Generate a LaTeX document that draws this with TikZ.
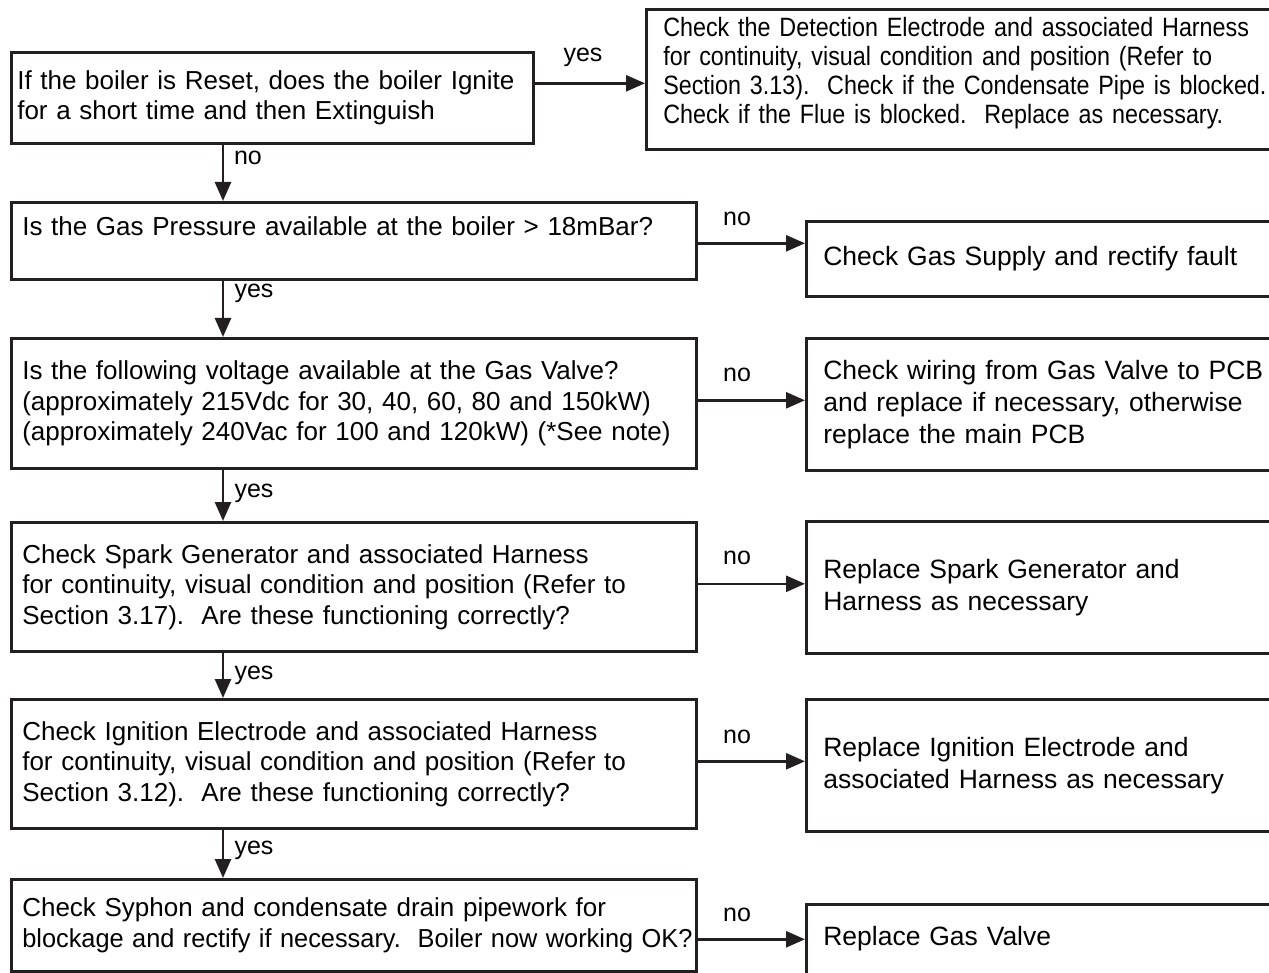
\documentclass[tikz,border=0pt]{standalone}
\usepackage{fontspec}
\setmainfont{Liberation Sans}
\newfontfamily\narrowf[FakeStretch=0.88]{Liberation Sans}
\usetikzlibrary{arrows.meta}
\definecolor{ink}{HTML}{231F20}
\frenchspacing
\tikzset{
  qbox/.style={draw=ink, line width=2.6pt, rectangle, anchor=north west, align=left,
    inner ysep=0pt, inner xsep=11pt, text width=663pt, minimum width=685pt,
    font=\frenchspacing\fontsize{26}{30.5}\selectfont, text=black},
  abox/.style={draw=ink, line width=2.6pt, rectangle, anchor=north west, align=left,
    inner ysep=0pt, inner xsep=17pt, text width=466pt, minimum width=500pt,
    font=\frenchspacing\fontsize{26.5}{32}\selectfont, text=black},
  arr/.style={draw=ink, line width=2.6pt, -{Triangle[length=19pt,width=16pt]}},
  lbl/.style={font=\fontsize{25}{25}\selectfont, inner sep=0pt, text=black}
}
\begin{document}
\begin{tikzpicture}[x=1pt,y=-1pt]
\clip (0,0) rectangle (1269,973);
\fill[white] (0,0) rectangle (1269,973);
\coordinate (cx) at (223,0);
% left column
\node[qbox, inner xsep=6pt, text width=510pt, minimum width=522pt, minimum height=91pt] (b1) at (10,51)
  {If the boiler is Reset, does the boiler Ignite\\for a short time and then Extinguish};
\node[qbox, text height=33.5pt, text depth=43.5pt] (b2) at (10,201)
  {Is the Gas Pressure available at the boiler > 18mBar?};
\node[qbox, minimum height=130pt] (b3) at (10,337)
  {Is the following voltage available at the Gas Valve?\\(approximately 215Vdc for 30, 40, 60, 80 and 150kW)\\(approximately 240Vac for 100 and 120kW) (*See note)};
\node[qbox, minimum height=129pt] (b4) at (10,521)
  {Check Spark Generator and associated Harness\\for continuity, visual condition and position (Refer to\\Section 3.17).~ Are these functioning correctly?};
\node[qbox, minimum height=129pt] (b5) at (10,698)
  {Check Ignition Electrode and associated Harness\\for continuity, visual condition and position (Refer to\\Section 3.12).~ Are these functioning correctly?};
\node[qbox, minimum height=92pt] (b6) at (10,878)
  {Check Syphon and condensate drain pipework for\\\scalebox{0.975}[1]{blockage and rectify if necessary.~ Boiler now working OK?}};
% right column
\node[abox, text width=666pt, minimum width=700pt, minimum height=140pt, font=\narrowf\frenchspacing\fontsize{26.5}{29}\selectfont] (r1) at (645,8)
  {Check the Detection Electrode and associated Harness\\for continuity, visual condition and position (Refer to\\Section 3.13).~ Check if the Condensate Pipe is blocked.\\Check if the Flue is blocked.~ Replace as necessary.\\[-11pt]\mbox{}};
\node[abox, minimum height=75pt] (r2) at (805,220) {Check Gas Supply and rectify fault};
\node[abox, minimum height=132pt] (r3) at (805,337)
  {Check wiring from Gas Valve to PCB\\and replace if necessary, otherwise\\replace the main PCB};
\node[abox, minimum height=132pt] (r4) at (805,520)
  {Replace Spark Generator and\\Harness as necessary};
\node[abox, minimum height=132pt] (r5) at (805,698)
  {Replace Ignition Electrode and\\associated Harness as necessary};
\node[abox, text height=41.5pt, text depth=40pt] (r6) at (805,903) {Replace Gas Valve};
% connectors
\draw[arr] ([yshift=14.5pt]b1.east) -- ([yshift=14.5pt]b1.east -| r1.west);
\draw[arr] (b1.south -| cx) -- (b2.north -| cx);
\draw[arr] (b2.south -| cx) -- (b3.north -| cx);
\draw[arr] (b3.south -| cx) -- (b4.north -| cx);
\draw[arr] (b4.south -| cx) -- (b5.north -| cx);
\draw[arr] (b5.south -| cx) -- (b6.north -| cx);
\draw[arr] ([yshift=-2.5pt]b2.east) -- ([yshift=-2.5pt]b2.east -| r2.west);
\draw[arr] ([yshift=3pt]b3.east) -- ([yshift=3pt]b3.east -| r3.west);
\draw[arr] ([yshift=3pt]b4.east) -- ([yshift=3pt]b4.east -| r4.west);
\draw[arr] ([yshift=2.5pt]b5.east) -- ([yshift=2.5pt]b5.east -| r5.west);
\draw[arr] ([yshift=-14pt]b6.east) -- ([yshift=-14pt]b6.east -| r6.west);
% labels
\node[lbl] (l1) at (583,57) {yes};
\node[lbl] (l2) at (248,158) {no};
\node[lbl] (l3) at (737,219) {no};
\node[lbl] (l4) at (254,293) {yes};
\node[lbl] (l5) at (737,375) {no};
\node[lbl] (l6) at (254,493) {yes};
\node[lbl] (l7) at (737,558) {no};
\node[lbl] (l8) at (254,675) {yes};
\node[lbl] (l9) at (737,737) {no};
\node[lbl] (l10) at (254,850) {yes};
\node[lbl] (l11) at (737,915) {no};
\end{tikzpicture}
\end{document}
